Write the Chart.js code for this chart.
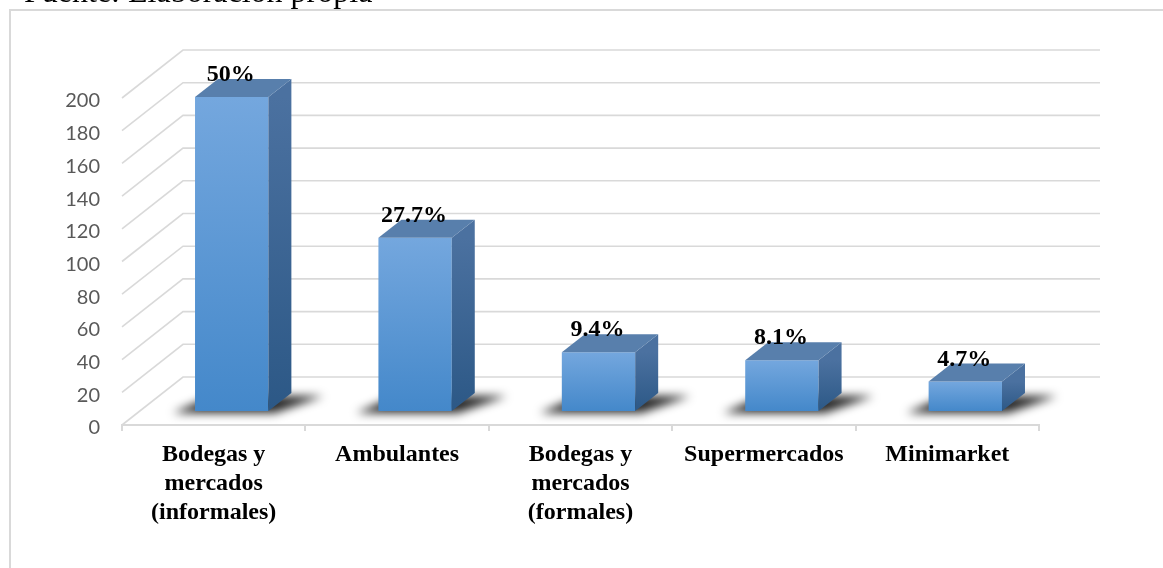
<!DOCTYPE html>
<html>
<head>
<meta charset="utf-8">
<script src="https://cdn.jsdelivr.net/npm/chart.js@4.4.1/dist/chart.umd.min.js"></script>
<style>
  html, body { margin: 0; padding: 0; background: #fff; overflow: hidden }
  #wrap { width: 1163px; height: 568px; position: relative }
</style>
</head>
<body>
<div id="wrap"><canvas id="chart" width="1163" height="568"></canvas></div>
<script>
const categories = [
  ["Bodegas y", "mercados", "(informales)"],
  "Ambulantes",
  ["Bodegas y", "mercados", "(formales)"],
  "Supermercados",
  "Minimarket"
]
const counts = [192, 106, 36, 31, 18]
const percentLabels = ["50%", "27.7%", "9.4%", "8.1%", "4.7%"]
const yMin = 0
const yMax = 200
const yStep = 20
const sourceNote = "Fuente: Elaboración propia"

// fake 3d: back wall offset, bar front offset into the floor, bar depth
const DEPTH_X = 61, DEPTH_Y = 48
const BAR_X = 18, BAR_Y = 14
const SIDE_X = 23, SIDE_Y = 18
const GRID = "#d9d9d9"

function frontFill(ctx) {
  const c = ctx.chart
  if (!c.chartArea || ctx.raw == null) return "#5b9bd5"
  const y = c.scales.y
  const g = c.ctx.createLinearGradient(0, y.getPixelForValue(ctx.raw), 0, y.getPixelForValue(0))
  g.addColorStop(0, "#74a7de")
  g.addColorStop(1, "#4488ca")
  return g
}

const wall3d = {
  id: "wall3d",
  beforeDraw(c) {
    const ctx = c.ctx
    ctx.save()
    ctx.fillStyle = "#fff"
    ctx.fillRect(0, 0, c.width, c.height)
    ctx.strokeStyle = GRID
    ctx.lineWidth = 2
    ctx.strokeRect(10, 10, c.width + 20, c.height + 20)
    ctx.fillStyle = "#000"
    ctx.font = "32px 'Liberation Serif'"
    ctx.textBaseline = "alphabetic"
    ctx.fillText(sourceNote, 24, 2)
    ctx.restore()
  },
  beforeDatasetsDraw(c) {
    const { ctx, chartArea: a, scales: { y } } = c
    ctx.save()
    ctx.strokeStyle = GRID
    ctx.lineWidth = 1.6
    for (let v = yMin; v <= yMax; v += yStep) {
      const py = y.getPixelForValue(v)
      ctx.beginPath()
      ctx.moveTo(a.left, py)
      ctx.lineTo(a.left + DEPTH_X, py - DEPTH_Y)
      ctx.lineTo(a.right + DEPTH_X, py - DEPTH_Y)
      ctx.stroke()
    }
    // soft shadow on the floor
    ctx.filter = "blur(5px)"
    ctx.fillStyle = "rgba(0,0,0,0.85)"
    c.getDatasetMeta(0).data.forEach(bar => {
      const xl = bar.x - bar.width / 2 + BAR_X
      const xr = bar.x + bar.width / 2 + BAR_X
      const b = bar.base - BAR_Y
      ctx.beginPath()
      ctx.moveTo(xl - 22, b + 2)
      ctx.lineTo(xr + 6, b + 2)
      ctx.lineTo(xr + SIDE_X + 32, b - SIDE_Y + 3)
      ctx.lineTo(xl + SIDE_X - 6, b - SIDE_Y + 3)
      ctx.closePath()
      ctx.fill()
    })
    ctx.restore()
    ctx.save()
    ctx.translate(BAR_X, -BAR_Y)
  },
  afterDatasetsDraw(c) {
    const ctx = c.ctx
    ctx.restore()
    ctx.save()
    c.getDatasetMeta(0).data.forEach((bar, i) => {
      const xl = bar.x - bar.width / 2 + BAR_X
      const xr = bar.x + bar.width / 2 + BAR_X
      const top = bar.y - BAR_Y
      const bot = bar.base - BAR_Y
      const g = ctx.createLinearGradient(0, top, 0, bot)
      g.addColorStop(0, "#4b71a0")
      g.addColorStop(1, "#2c5886")
      ctx.fillStyle = g
      ctx.beginPath()
      ctx.moveTo(xr, top)
      ctx.lineTo(xr + SIDE_X, top - SIDE_Y)
      ctx.lineTo(xr + SIDE_X, bot - SIDE_Y)
      ctx.lineTo(xr, bot)
      ctx.closePath()
      ctx.fill()
      ctx.fillStyle = "#587fac"
      ctx.beginPath()
      ctx.moveTo(xl, top)
      ctx.lineTo(xr, top)
      ctx.lineTo(xr + SIDE_X, top - SIDE_Y)
      ctx.lineTo(xl + SIDE_X, top - SIDE_Y)
      ctx.closePath()
      ctx.fill()

      ctx.fillStyle = "#000"
      ctx.font = "bold 24px 'Liberation Serif'"
      ctx.textAlign = "center"
      ctx.textBaseline = "alphabetic"
      ctx.fillText(percentLabels[i], bar.x + BAR_X - 1, top - 16)
    })
    ctx.restore()
  }
}

new Chart(document.getElementById("chart"), {
  type: "bar",
  data: {
    labels: categories,
    datasets: [{
      data: counts,
      backgroundColor: frontFill,
      borderWidth: 0,
      categoryPercentage: 1,
      barPercentage: 0.4,
      clip: false
    }]
  },
  options: {
    responsive: false,
    animation: false,
    devicePixelRatio: 1,
    layout: { padding: { left: 10, top: 98, right: 124, bottom: 0 } },
    plugins: { legend: { display: false }, tooltip: { enabled: false } },
    scales: {
      x: {
        grid: { display: true, drawOnChartArea: false, drawTicks: true, tickLength: 6, color: GRID, lineWidth: 2, offset: true },
        border: { display: true, color: GRID, width: 2 },
        ticks: {
          color: "#000",
          font: { family: "Liberation Serif", size: 24, weight: "bold", lineHeight: 1.19 },
          padding: 10,
          maxRotation: 0,
          autoSkip: false
        },
        afterFit: s => { s.height = 143 }
      },
      y: {
        min: yMin,
        max: yMax,
        ticks: { stepSize: yStep, color: "#595959", font: { family: "Lato", size: 20 }, padding: 22, labelOffset: 3 },
        grid: { display: false, drawTicks: false },
        border: { display: false },
        afterFit: s => { s.width = 112 }
      }
    }
  },
  plugins: [wall3d]
})
</script>
</body>
</html>
